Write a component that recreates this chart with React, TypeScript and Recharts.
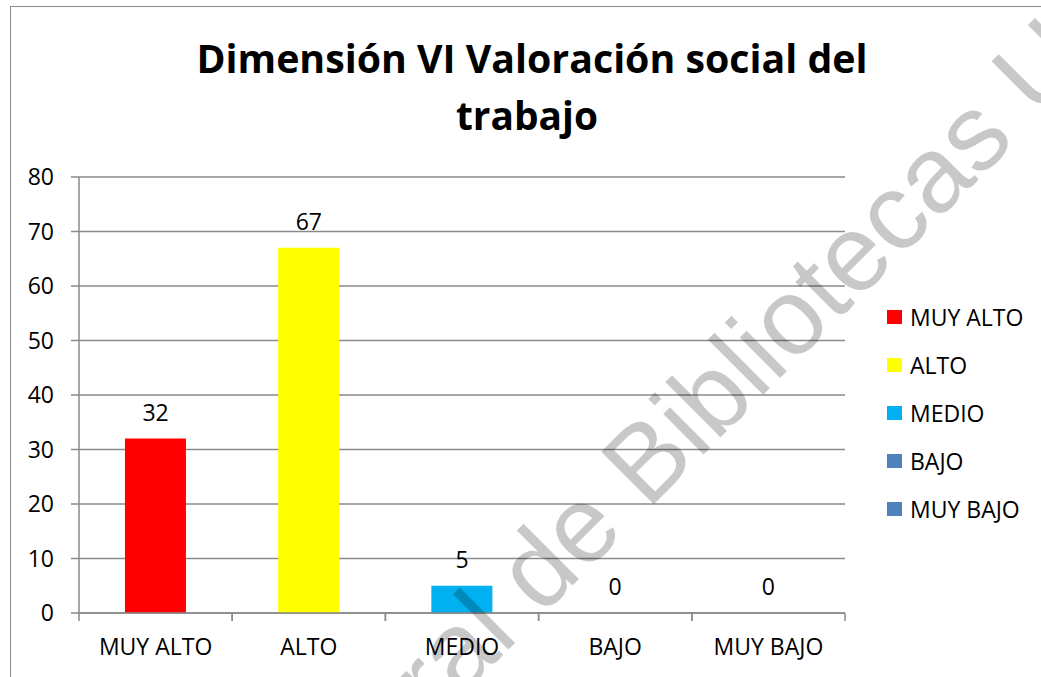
import React from 'react';
import { ComposedChart, Bar, Line, XAxis, YAxis, CartesianGrid, Cell, LabelList, Legend } from 'recharts';

const categories = ['MUY ALTO', 'ALTO', 'MEDIO', 'BAJO', 'MUY BAJO'];
const values = [32, 67, 5, 0, 0];
const barColors = ['#FF0000', '#FFFF00', '#00B0F0', '#4F81BD', '#4F81BD'];
const yTicks = [0, 10, 20, 30, 40, 50, 60, 70, 80];
const titleLines = ['Dimensión VI Valoración social del', 'trabajo'];
const watermarkParts = ['Dirección General de', 'Bibliotecas UAQ'];

const data = categories.map((name, i) => ({ name, value: values[i] }));

const font = "'Open Sans', sans-serif";
const gray = '#8a8a8a';

// x axis: labels under the bars, tick marks on the category borders
const CategoryTick = (props: any) => {
  const { x, y, payload } = props;
  const half = payload && payload.offset ? payload.offset : 76.6;
  return (
    <g>
      <line x1={x - half} x2={x - half} y1={y - 8} y2={y} stroke={gray} strokeWidth={1.5} />
      <line x1={x + half} x2={x + half} y1={y - 8} y2={y} stroke={gray} strokeWidth={1.5} />
      <text x={x} y={y + 34} textAnchor="middle" fill="#000" fontSize={23} fontFamily={font}>
        {payload.value}
      </text>
    </g>
  );
};

const renderLegend = () => (
  <div style={{ fontFamily: font, fontSize: 23, color: '#000' }}>
    {categories.map((c, i) => (
      <div key={c} style={{ height: 48, display: 'flex', alignItems: 'center' }}>
        <span style={{ width: 15, height: 14, background: barColors[i], marginRight: 8, display: 'inline-block' }} />
        <span style={{ lineHeight: '28px' }}>{c}</span>
      </div>
    ))}
  </div>
);

export default function App() {
  return (
    <div style={{ position: 'absolute', left: 0, top: 0, width: 1041, height: 677, overflow: 'hidden', background: '#fff' }}>
      <ComposedChart
        width={1041}
        height={677}
        data={data}
        margin={{ top: 177, right: 46, bottom: 0, left: 19 }}
        barCategoryGap="30%"
      >
        <CartesianGrid vertical={false} stroke={gray} strokeWidth={1.5} />
        <XAxis
          dataKey="name"
          height={64}
          interval={0}
          tickLine={false}
          tickSize={8}
          tickMargin={0}
          axisLine={{ stroke: gray, strokeWidth: 1.5 }}
          tick={<CategoryTick />}
        />
        <YAxis
          width={60}
          domain={[0, 80]}
          ticks={yTicks}
          interval={0}
          tickSize={8}
          tickMargin={17}
          axisLine={{ stroke: gray, strokeWidth: 1.5 }}
          tickLine={{ stroke: gray, strokeWidth: 1.5 }}
          tick={{ fill: '#000', fontSize: 23, fontFamily: font }}
        />
        <Legend
          layout="vertical"
          align="right"
          verticalAlign="middle"
          content={renderLegend}
          wrapperStyle={{ left: 887, top: 293, width: 150 }}
        />
        <Bar dataKey="value" isAnimationActive={false}>
          {data.map((d, i) => (
            <Cell key={d.name} fill={barColors[i]} />
          ))}
        </Bar>
        {/* value labels, also shown for the zero bars */}
        <Line
          dataKey="value"
          stroke="none"
          dot={false}
          activeDot={false}
          legendType="none"
          isAnimationActive={false}
        >
          <LabelList dataKey="value" position="top" offset={18} fill="#000" fontSize={23} fontFamily={font} />
        </Line>
      </ComposedChart>
      <svg
        width={1041}
        height={677}
        style={{ position: 'absolute', left: 0, top: 0, pointerEvents: 'none' }}
      >
        <rect x={10.5} y={6.5} width={2000} height={2000} fill="none" stroke={gray} strokeWidth={1} />
        <text x={532} y={73} textAnchor="middle" fontFamily={font} fontWeight={700} fontSize={40}
          textLength={671} lengthAdjust="spacingAndGlyphs">
          {titleLines[0]}
        </text>
        <text x={527} y={130} textAnchor="middle" fontFamily={font} fontWeight={700} fontSize={40}
          textLength={142} lengthAdjust="spacingAndGlyphs">
          {titleLines[1]}
        </text>
        <g transform="translate(647.6,510.4) rotate(-45)" fill="#000" opacity={0.21}
          fontFamily="'Liberation Sans', sans-serif" fontSize={108}>
          <text x={-30} y={0} textAnchor="end">{watermarkParts[0]}</text>
          <text x={0} y={0}>{watermarkParts[1]}</text>
        </g>
      </svg>
    </div>
  );
}
